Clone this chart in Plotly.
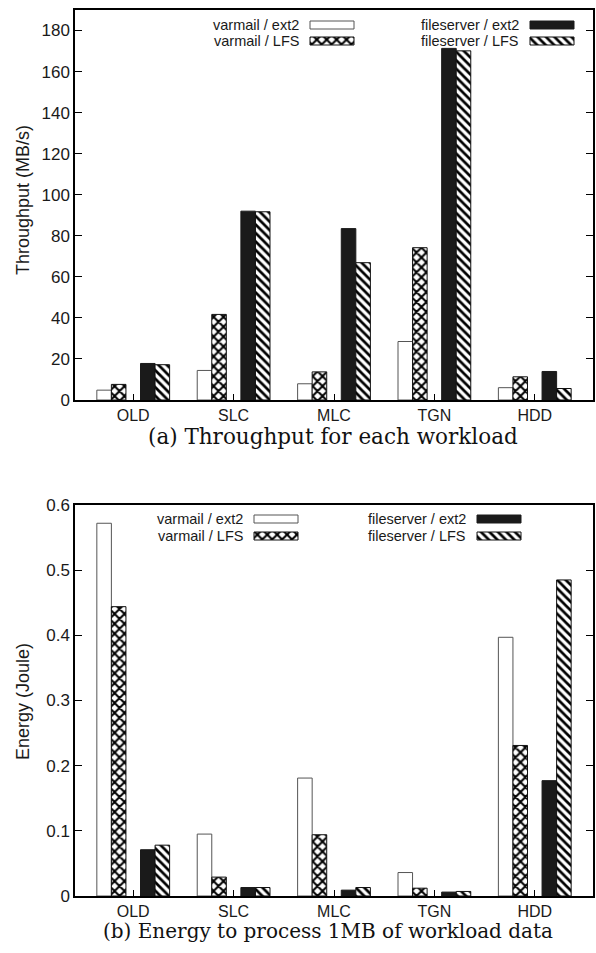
import plotly.graph_objects as go

categories = ["OLD", "SLC", "MLC", "TGN", "HDD"]
series_names = ["varmail / ext2", "varmail / LFS", "fileserver / ext2", "fileserver / LFS"]

throughput_varmail_ext2 = [4.8, 14.4, 7.9, 28.5, 6.0]
throughput_varmail_lfs = [7.6, 41.7, 13.7, 74.2, 11.3]
throughput_fileserver_ext2 = [17.8, 92.0, 83.5, 171.3, 13.9]
throughput_fileserver_lfs = [17.2, 91.7, 66.9, 170.1, 5.6]

energy_varmail_ext2 = [0.572, 0.095, 0.181, 0.036, 0.397]
energy_varmail_lfs = [0.444, 0.029, 0.094, 0.012, 0.231]
energy_fileserver_ext2 = [0.071, 0.013, 0.009, 0.006, 0.177]
energy_fileserver_lfs = [0.078, 0.013, 0.013, 0.007, 0.485]

W, H = 596, 953
TXT = "#1a1a1a"
SANS = "Liberation Sans, Arial, sans-serif"
SERIF = "DejaVu Serif, serif"

styles = [
    dict(color="white", line=dict(color="#555555", width=1)),
    dict(color="white", line=dict(color="#111111", width=1),
         pattern=dict(shape="x", fgcolor="#000000", bgcolor="white", size=7, solidity=0.5)),
    dict(color="#1a1a1a", line=dict(color="#1a1a1a", width=1)),
    dict(color="white", line=dict(color="#111111", width=1),
         pattern=dict(shape="\\", fgcolor="#000000", bgcolor="white", size=6, solidity=0.45)),
]

fig = go.Figure()

def add_group(vals, xa, ya):
    for i, v in enumerate(vals):
        if i == 2:
            # empty slot in the middle of each cluster
            fig.add_trace(go.Bar(x=categories, y=[0] * len(categories), xaxis=xa, yaxis=ya,
                                 marker=dict(color="rgba(0,0,0,0)", line=dict(width=0)),
                                 showlegend=False, hoverinfo="skip"))
        fig.add_trace(go.Bar(x=categories, y=v, xaxis=xa, yaxis=ya, name=series_names[i],
                             marker=styles[i], showlegend=False))

add_group([throughput_varmail_ext2, throughput_varmail_lfs,
           throughput_fileserver_ext2, throughput_fileserver_lfs], "x", "y")
add_group([energy_varmail_ext2, energy_varmail_lfs,
           energy_fileserver_ext2, energy_fileserver_lfs], "x2", "y2")

# legend keys (text left, swatch right), in pixel units on an overlay axis
SW_W, SW_H = 44, 8
leg = [
    dict(col=[(300, 310), (520, 530)], rows=[25, 41]),
    dict(col=[(244, 254), (467, 477)], rows=[519, 536]),
]
for k in range(4):
    c, r = k // 2, k % 2
    xs, bases = [], []
    for L in leg:
        xs.append(L["col"][c][1] + SW_W / 2)
        bases.append(L["rows"][r] - SW_H / 2)
    fig.add_trace(go.Bar(x=xs, y=[SW_H] * 2, base=bases, width=[SW_W] * 2,
                         offset=[-SW_W / 2] * 2, xaxis="x3", yaxis="y3",
                         marker=styles[k], showlegend=False, hoverinfo="skip"))
    for L in leg:
        fig.add_annotation(text=series_names[k], xref="paper", yref="paper",
                           x=L["col"][c][0] / W, y=1 - L["rows"][r] / H,
                           xanchor="right", yanchor="middle", showarrow=False, borderpad=0,
                           font=dict(family=SANS, size=14.5, color=TXT))

xd = [75 / W, 593 / W]
axis_common = dict(showline=True, linecolor="black", linewidth=1.5, ticks="inside",
                   tickcolor="black", tickwidth=1, showgrid=False, zeroline=False,
                   automargin=False)
yfont = dict(family=SANS, size=17, color=TXT)
xfont = dict(family=SANS, size=16, color=TXT)

fig.update_layout(
    template="none",
    width=W, height=H, margin=dict(l=0, r=0, t=0, b=0, pad=0, autoexpand=False),
    paper_bgcolor="white", plot_bgcolor="rgba(0,0,0,0)", showlegend=False,
    barmode="group", bargap=0.275, bargroupgap=0,
    xaxis=dict(domain=xd, range=[-0.58, 4.58], mirror=True, ticklen=6, anchor="y",
               tickfont=xfont, **axis_common),
    yaxis=dict(domain=[1 - 400 / H, 1 - 10 / H], range=[0, 190], dtick=20, mirror="ticks",
               ticklen=7, anchor="x", tickfont=yfont, **axis_common),
    xaxis2=dict(domain=xd, range=[-0.58, 4.58], mirror=True, ticklen=6, anchor="y2",
                tickfont=xfont, **axis_common),
    yaxis2=dict(domain=[1 - 896 / H, 1 - 505 / H], range=[0, 0.6], dtick=0.1, mirror="ticks",
                ticklen=7, anchor="x2", tickfont=yfont, **axis_common),
    xaxis3=dict(domain=[0, 1], range=[0, W], visible=False, anchor="y3", automargin=False),
    yaxis3=dict(domain=[0, 1], range=[H, 0], visible=False, anchor="x3", automargin=False),
)

# axis titles
fig.add_annotation(text="Throughput (MB/s)", xref="paper", yref="paper", x=23 / W, y=1 - 200 / H,
                   textangle=-90, showarrow=False, xanchor="center", yanchor="middle",
                   font=dict(family=SANS, size=18, color=TXT))
fig.add_annotation(text="Energy (Joule)", xref="paper", yref="paper", x=23 / W, y=1 - 702 / H,
                   textangle=-90, showarrow=False, xanchor="center", yanchor="middle",
                   font=dict(family=SANS, size=18, color=TXT))

# captions
fig.add_annotation(text="(a) Throughput for each workload", xref="paper", yref="paper",
                   x=333 / W, y=1 - 437 / H, showarrow=False, xanchor="center", yanchor="middle",
                   font=dict(family=SERIF, size=21.5, color="#111111"))
fig.add_annotation(text="(b) Energy to process 1MB of workload data", xref="paper", yref="paper",
                   x=328 / W, y=1 - 931 / H, showarrow=False, xanchor="center", yanchor="middle",
                   font=dict(family=SERIF, size=20, color="#111111"))

fig.write_html("out.html", config={"displayModeBar": False},
               post_script="document.body.style.margin='0';document.body.style.overflow='hidden';")
